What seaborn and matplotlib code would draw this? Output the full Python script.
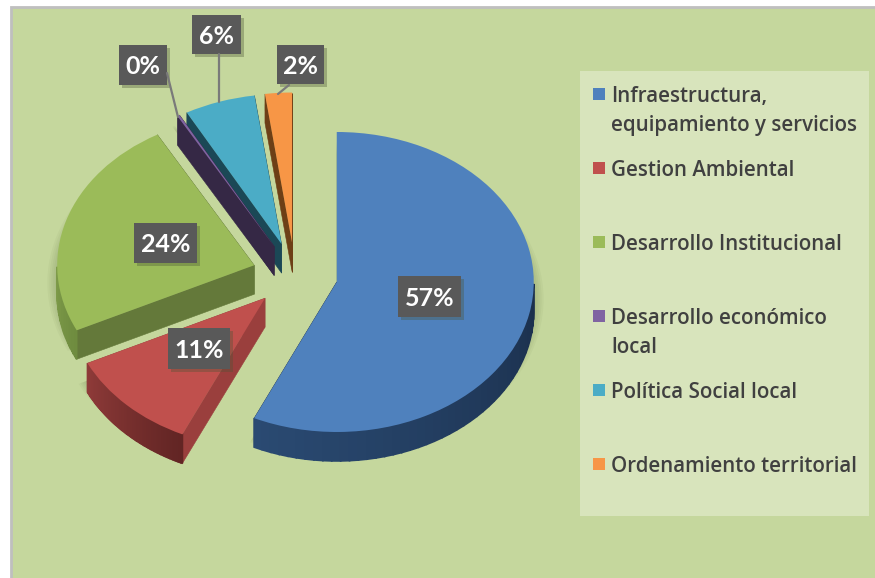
import numpy as np
import matplotlib
matplotlib.use("Agg")
import matplotlib.pyplot as plt
from matplotlib.patches import Rectangle, Polygon
from matplotlib.colors import to_rgb
import seaborn as sns

# values
categories = [
    "Infraestructura,\nequipamiento y servicios",
    "Gestion Ambiental",
    "Desarrollo Institucional",
    "Desarrollo económico\nlocal",
    "Política Social local",
    "Ordenamiento territorial",
]
values = [57, 11, 24, 0.2, 5.8, 2.2]
top_colors = ["#4F81BD", "#C0504D", "#9BBB59", "#8064A2", "#4BACC6", "#F79646"]
cut_colors = ["#1F3554", "#9A3F3D", "#64793A", "#352845", "#1B4856", "#6D3F16"]
arc_left = ["#2A4A72", "#8F3B39", "#7F9C4A", "#352845", "#1B4856", "#6D3F16"]
arc_right = ["#1B304D", "#622524", "#6F8C3F", "#352845", "#1B4856", "#6D3F16"]

W, H = 875, 578
CX, CY = 295, 275
RX, RY = 197, 150
DEPTH = 29 / RY
EXPLODE = 0.217

sns.set_theme(style="white")
plt.rcParams["font.family"] = ["Lato", "DejaVu Sans"]

fig = plt.figure(figsize=(W / 100, H / 100), dpi=100, facecolor="white")

# pixel-space layers for the panel and for the boxes/legend
bg = fig.add_axes([0, 0, 1, 1], zorder=0)
bg.set_xlim(0, W)
bg.set_ylim(H, 0)
bg.axis("off")
bg.add_patch(Rectangle((12, 7), W - 12, H - 7, fc="#C5D79D", lw=0))
bg.plot([11, 11, W], [H, 7, 7], color="#BFBFBF", lw=2, solid_joinstyle="miter")

ax = fig.add_axes([0, 0, 1, 1], zorder=1)
ax.patch.set_alpha(0)


def lerp(a, b, t):
    a, b = np.array(to_rgb(a)), np.array(to_rgb(b))
    return tuple(a + (b - a) * t)


# soft shadow under the slices
for k in range(9):
    ax.pie(values, explode=[EXPLODE] * len(values), startangle=90,
           counterclock=False, radius=1.05 - k * 0.01,
           center=(0, -DEPTH * 0.6),
           colors=["#55633A"] * len(values),
           wedgeprops={"alpha": 0.05, "lw": 0})

wedges, _ = ax.pie(values, explode=[EXPLODE] * len(values), startangle=90,
                   counterclock=False, colors=top_colors, radius=1,
                   wedgeprops={"lw": 0})

# extruded walls, back slices first
for i, w in enumerate(wedges):
    z = 10 + (len(wedges) - i) * 3
    w.set_zorder(z + 2)
    cx, cy = w.center
    t1, t2 = np.radians(w.theta1), np.radians(w.theta2)
    for t in (t1, t2):
        ex, ey = cx + np.cos(t), cy + np.sin(t)
        ax.add_patch(Polygon([(cx, cy), (ex, ey), (ex, ey - DEPTH), (cx, cy - DEPTH)],
                             fc=cut_colors[i], ec=cut_colors[i], lw=0.4, zorder=z))
    arc = np.linspace(t1, t2, 80)
    arc = arc[np.sin(arc) < 0]
    n = len(arc)
    for j in range(n - 1):
        col = lerp(arc_left[i], arc_right[i], j / max(n - 2, 1))
        xs = cx + np.cos(arc[j:j + 2])
        ys = cy + np.sin(arc[j:j + 2])
        ax.add_patch(Polygon([(xs[0], ys[0]), (xs[1], ys[1]),
                              (xs[1], ys[1] - DEPTH), (xs[0], ys[0] - DEPTH)],
                             fc=col, ec=col, lw=1.2, zorder=z + 1))

ax.set_aspect("auto")
ax.set_xlim(-CX / RX, (W - CX) / RX)
ax.set_ylim(-(H - CY) / RY, CY / RY)
ax.axis("off")

top = fig.add_axes([0, 0, 1, 1], zorder=2)
top.set_xlim(0, W)
top.set_ylim(H, 0)
top.axis("off")
top.patch.set_alpha(0)

# data labels: box left, top, right, bottom
label_boxes = [(398, 276, 461, 317), (168, 328, 230, 369), (134, 223, 197, 263),
               (119, 45, 167, 85), (192, 15, 241, 54), (277, 45, 324, 84)]
leaders = {3: ((167, 73), (178, 117)), 4: ((219, 54), (219, 102)), 5: ((289, 85), (278, 94))}

for i, (x0, y0, x1, y1) in enumerate(label_boxes):
    top.add_patch(Rectangle((x0 + 3, y0 + 3), x1 - x0, y1 - y0, fc="#4A5535", alpha=0.35, lw=0))
    if i in leaders:
        (a, b), (c, d) = leaders[i]
        top.plot([a, c], [b, d], color="#7A7A7A", lw=1.6)
    top.add_patch(Rectangle((x0, y0), x1 - x0, y1 - y0, fc="#595959", lw=0))
    top.text((x0 + x1) / 2, (y0 + y1) / 2 + 1.5, f"{values[i]:.0f}%", color="white",
             fontsize=18, fontweight="bold", ha="center", va="center")

# legend panel
top.add_patch(Rectangle((580, 71), 289, 445, fc="#D8E4BC", lw=0))
legend_y = [94, 168, 242, 316, 390, 464]
for name, color, y in zip(categories, top_colors, legend_y):
    top.add_patch(Rectangle((593, y - 6), 12, 12, fc=color, lw=0))
    for n, line in enumerate(name.split("\n")):
        top.text(611, y + n * 29, line, color="#404040", family="Open Sans", fontsize=14.8,
                 fontweight=600, ha="left", va="center_baseline")

fig.savefig("out.png", dpi=100)
